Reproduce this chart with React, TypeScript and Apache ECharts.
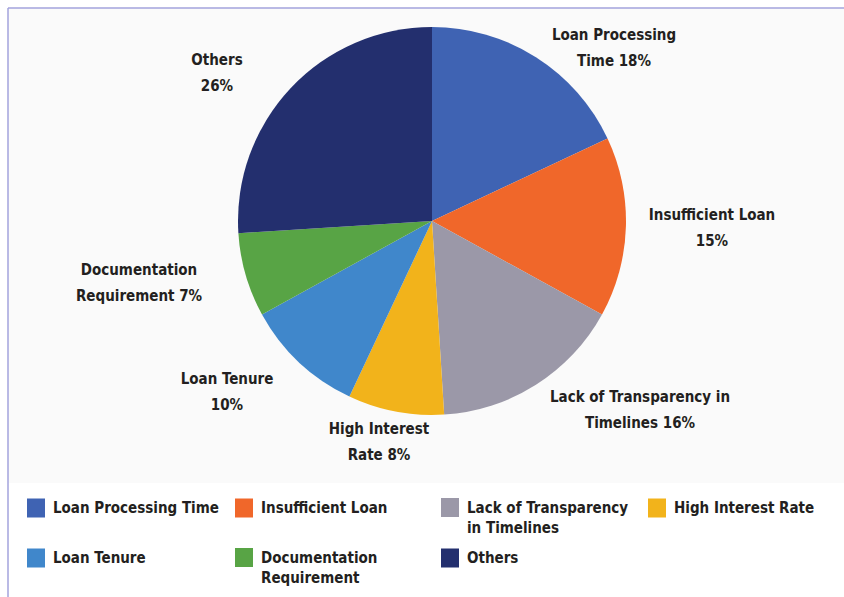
import React, { useEffect, useRef } from "react";
import * as echarts from "echarts";

const categories = [
  "Loan Processing Time",
  "Insufficient Loan",
  "Lack of Transparency in Timelines",
  "High Interest Rate",
  "Loan Tenure",
  "Documentation Requirement",
  "Others",
];
const shares = [18, 15, 16, 8, 10, 7, 26];

// label text for each slice (line breaks as in the picture)
const sliceLabels = [
  "Loan Processing\nTime 18%",
  "Insufficient Loan\n15%",
  "Lack of Transparency in\nTimelines 16%",
  "High Interest\nRate 8%",
  "Loan Tenure\n10%",
  "Documentation\nRequirement 7%",
  "Others\n26%",
];
const legendLabels = [
  "Loan Processing Time",
  "Insufficient Loan",
  "Lack of Transparency\nin Timelines",
  "High Interest Rate",
  "Loan Tenure",
  "Documentation\nRequirement",
  "Others",
];

// styling (not data)
const colors = ["#3f63b3", "#f0672a", "#9b98a8", "#f2b31b", "#4087cb", "#58a445", "#232f6e"];
const labelPos: [number, number][] = [
  [614, 48],
  [712, 228],
  [640, 410],
  [379, 442],
  [227, 392],
  [139, 283],
  [217, 73],
];
const legendPos: [number, number][] = [
  [27, 498],
  [235, 498],
  [441, 498],
  [648, 498],
  [27, 548],
  [235, 548],
  [441, 548],
];

const FONT = "'DejaVu Sans Condensed', 'Liberation Sans Narrow', sans-serif";
const TEXT = "#231f20";

export default function App() {
  const ref = useRef<HTMLDivElement>(null);
  useEffect(() => {
    document.body.style.margin = "0";
    const chart = echarts.init(ref.current!, undefined, { renderer: "svg" });
    const data = categories.map((name, i) => ({
      name,
      value: shares[i],
      itemStyle: { color: colors[i] },
    }));
    const legends = categories.map((name, i) => {
      const multi = legendLabels[i].includes("\n");
      return {
        show: true,
        data: [name],
        orient: "horizontal",
        left: legendPos[i][0],
        top: multi ? legendPos[i][1] - 20.5 : legendPos[i][1],
        padding: 0,
        itemWidth: 18,
        itemHeight: 19,
        icon: "rect",
        selectedMode: false,
        formatter: () => (multi ? "\n" + legendLabels[i] : legendLabels[i]),
        textStyle: {
          fontFamily: FONT,
          fontWeight: "bold",
          fontSize: 15,
          color: TEXT,
          lineHeight: 20,
          padding: [0, 0, 0, 3],
        },
      };
    });
    chart.setOption({
      animation: false,
      backgroundColor: "#ffffff",
      graphic: [
        {
          type: "rect",
          shape: { x: 8, y: 8, width: 836, height: 475 },
          style: { fill: "#fafafa" },
          silent: true,
          z: -10,
        },
        {
          type: "line",
          shape: { x1: 8, y1: 8, x2: 844, y2: 8 },
          style: { stroke: "#a3a3dc", lineWidth: 1.5 },
          silent: true,
        },
        {
          type: "line",
          shape: { x1: 8, y1: 8, x2: 8, y2: 597 },
          style: { stroke: "#a3a3dc", lineWidth: 1.5 },
          silent: true,
        },
      ],
      legend: legends,
      series: [
        {
          type: "pie",
          center: [432, 221],
          radius: 194,
          startAngle: 90,
          clockwise: true,
          avoidLabelOverlap: false,
          data,
          label: {
            show: true,
            position: "outside",
            formatter: (p: any) => sliceLabels[p.dataIndex],
            fontFamily: FONT,
            fontWeight: "bold",
            fontSize: 15,
            lineHeight: 26,
            color: TEXT,
            align: "center",
          },
          labelLine: { show: false },
          labelLayout: (p: any) => ({
            x: labelPos[p.dataIndex][0],
            y: labelPos[p.dataIndex][1],
            align: "center",
            verticalAlign: "middle",
          }),
          emphasis: { disabled: true },
        },
      ],
    });
    return () => chart.dispose();
  }, []);
  return <div ref={ref} style={{ width: 844, height: 597 }} />;
}
